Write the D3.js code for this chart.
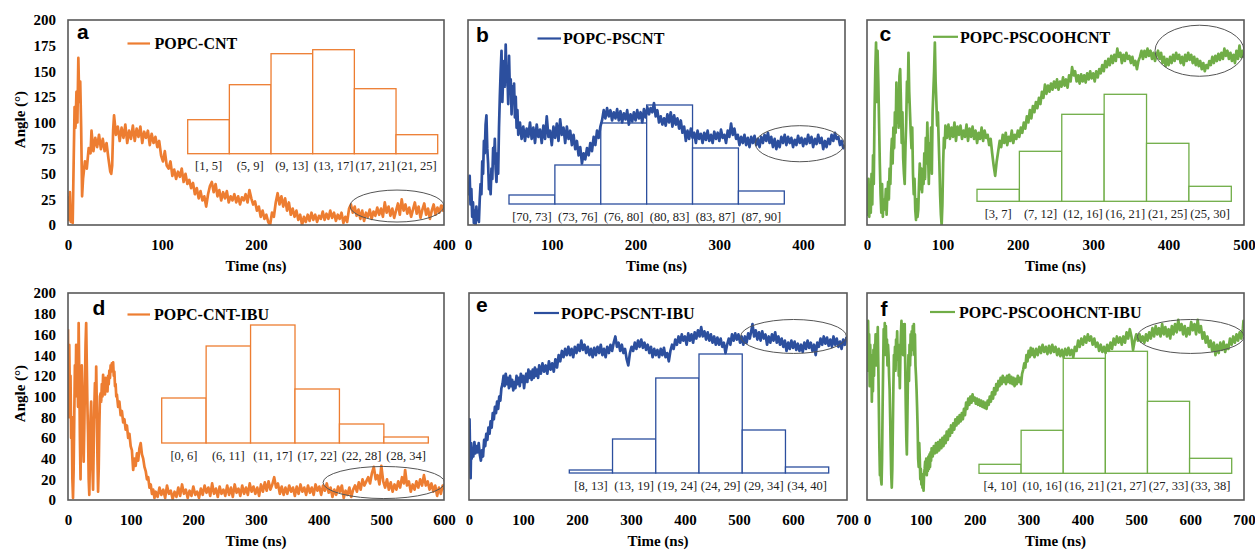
<!DOCTYPE html>
<html><head><meta charset="utf-8">
<script src="https://cdn.jsdelivr.net/npm/d3@7"></script>
<style>body{margin:0;background:#fff}svg{display:block}</style>
</head><body>
<svg id="chart" width="1255" height="550"></svg>
<script>
// ---------- DATA ----------
const seriesA = [[0,28],[1,5],[2,32],[3,3],[4,8],[5,2],[6,60],[7,115],[8,95],[9,130],[10,100],[11,163],[12,120],[13,140],[14,95],[15,28],[16,45],[18,62],[20,55],[22,75],[24,70],[25,92],[27,72],[29,85],[31,76],[33,88],[35,74],[37,84],[39,72],[41,80],[43,65],[45,52],[46,50],[47,58],[48,92],[49,107],[51,88],[53,96],[55,82],[57,95],[59,85],[61,98],[63,80],[65,92],[67,84],[69,97],[71,82],[73,94],[75,86],[77,96],[79,80],[81,91],[83,85],[85,92],[87,78],[89,89],[91,80],[93,86],[95,76],[97,82],[99,68],[101,62],[103,72],[105,58],[107,55],[109,62],[111,48],[113,54],[115,45],[117,52],[119,47],[121,55],[123,42],[125,50],[127,40],[129,44],[131,36],[133,41],[135,30],[137,36],[139,26],[141,33],[143,24],[145,28],[147,18],[149,30],[151,38],[153,42],[155,32],[157,40],[159,28],[161,34],[163,24],[165,32],[167,26],[169,33],[171,22],[173,28],[175,24],[177,30],[179,22],[181,28],[183,20],[185,27],[187,24],[189,30],[191,22],[193,34],[195,26],[197,20],[199,23],[201,14],[203,18],[205,8],[207,14],[209,6],[211,10],[213,3],[215,0],[217,12],[219,8],[221,22],[223,31],[225,20],[227,28],[229,18],[231,26],[233,14],[235,22],[237,10],[239,16],[241,8],[243,14],[245,5],[247,10],[249,0],[251,8],[253,3],[255,10],[257,4],[259,12],[261,5],[263,10],[265,3],[267,9],[269,6],[271,13],[273,5],[275,11],[277,6],[279,14],[281,7],[283,12],[285,4],[287,10],[289,6],[291,12],[293,2],[295,8],[297,3],[299,16],[301,20],[303,12],[305,18],[307,9],[309,15],[311,6],[313,14],[315,4],[317,12],[319,8],[321,15],[323,6],[325,13],[327,9],[329,17],[331,10],[333,16],[335,8],[337,22],[339,12],[341,18],[343,9],[345,16],[347,7],[349,14],[351,21],[353,10],[355,25],[357,14],[359,20],[361,11],[363,17],[365,8],[367,15],[369,22],[371,11],[373,18],[375,7],[377,15],[379,21],[381,10],[383,16],[385,6],[387,14],[389,20],[391,10],[393,17],[395,12],[397,19],[399,14],[400,20]];

const seriesB = [[0,42],[1,30],[2,48],[3,20],[4,35],[5,8],[6,22],[7,2],[8,14],[9,0],[10,18],[11,5],[12,12],[13,3],[14,25],[15,40],[16,30],[17,62],[18,50],[19,82],[20,70],[21,98],[22,107],[23,75],[24,60],[25,35],[26,48],[27,30],[28,55],[29,45],[30,75],[31,60],[32,84],[33,55],[34,42],[35,70],[36,50],[37,95],[38,125],[39,150],[40,170],[41,120],[42,145],[43,160],[44,135],[45,176],[46,140],[47,150],[48,118],[49,165],[50,130],[51,142],[52,108],[53,135],[54,120],[55,138],[56,105],[57,125],[58,95],[59,112],[60,88],[62,100],[64,84],[66,96],[68,82],[70,94],[72,86],[74,100],[76,84],[78,95],[80,80],[82,98],[84,86],[86,93],[88,80],[90,97],[92,84],[94,106],[96,86],[98,92],[100,78],[102,96],[104,85],[106,99],[108,82],[110,103],[112,88],[114,95],[116,80],[118,96],[120,84],[122,92],[124,78],[126,88],[128,74],[130,82],[132,68],[134,76],[136,60],[138,70],[140,64],[142,75],[144,68],[146,80],[148,72],[150,86],[152,78],[154,92],[156,85],[158,96],[160,102],[162,112],[164,104],[166,114],[168,106],[170,112],[172,102],[174,110],[176,104],[178,113],[180,102],[182,111],[184,100],[186,109],[188,103],[190,112],[192,98],[194,108],[196,101],[198,110],[200,102],[202,112],[204,104],[206,110],[208,100],[210,113],[212,105],[214,115],[216,108],[218,114],[220,110],[222,119],[224,106],[226,112],[228,100],[230,106],[232,98],[234,104],[236,97],[238,108],[240,100],[242,110],[244,96],[246,107],[248,98],[250,104],[252,94],[254,102],[256,90],[258,96],[260,82],[262,92],[264,84],[266,94],[268,85],[270,90],[272,80],[274,92],[276,84],[278,89],[280,80],[282,90],[284,83],[286,92],[288,82],[290,88],[292,80],[294,91],[296,84],[298,90],[300,82],[302,93],[304,85],[306,88],[308,80],[310,92],[312,86],[314,99],[316,88],[318,94],[320,84],[322,88],[324,78],[326,86],[328,80],[330,88],[332,78],[334,85],[336,76],[338,86],[340,80],[342,87],[344,78],[346,84],[348,76],[350,86],[352,80],[354,88],[356,82],[358,90],[360,80],[362,86],[364,76],[366,84],[368,74],[370,82],[372,76],[374,86],[376,80],[378,88],[380,78],[382,86],[384,80],[386,85],[388,76],[390,83],[392,78],[394,87],[396,80],[398,85],[400,77],[402,84],[404,79],[406,88],[408,80],[410,86],[412,76],[414,84],[416,79],[418,88],[420,80],[422,85],[424,74],[426,82],[428,76],[430,84],[432,79],[434,88],[436,82],[438,90],[440,84],[442,86],[444,78],[446,82],[448,75],[450,78]];

const seriesC = [[0,30],[1,10],[2,45],[3,8],[4,35],[5,12],[6,50],[7,20],[8,68],[9,40],[10,110],[11,150],[12,178],[13,120],[14,170],[15,140],[16,100],[17,60],[18,30],[19,12],[20,40],[21,8],[22,25],[23,15],[24,20],[25,35],[26,10],[27,30],[28,42],[29,25],[30,55],[31,40],[32,70],[33,84],[34,60],[35,95],[36,75],[37,110],[38,90],[39,139],[40,100],[41,130],[42,95],[43,145],[44,152],[45,120],[46,80],[47,110],[48,65],[49,50],[50,40],[51,75],[52,100],[53,140],[54,120],[55,168],[56,130],[57,110],[58,90],[59,75],[60,95],[61,50],[62,30],[63,45],[64,15],[65,5],[66,25],[67,8],[68,15],[69,40],[70,60],[71,35],[72,55],[73,32],[74,50],[75,40],[76,70],[77,45],[78,85],[79,60],[80,100],[81,70],[82,40],[83,80],[84,55],[85,95],[86,50],[87,110],[88,130],[89,150],[90,178],[91,140],[92,120],[93,97],[94,110],[95,84],[96,60],[97,29],[98,10],[99,0],[100,20],[101,60],[102,85],[103,75],[104,97],[106,85],[108,98],[110,84],[112,95],[114,86],[116,100],[118,82],[120,96],[122,88],[124,97],[126,84],[128,92],[130,86],[132,98],[134,82],[136,94],[138,86],[140,96],[142,84],[144,92],[146,80],[148,90],[150,84],[152,95],[154,82],[156,92],[158,85],[160,88],[162,78],[164,84],[166,70],[168,58],[170,48],[172,62],[174,72],[176,82],[178,76],[180,88],[182,80],[184,90],[186,78],[188,86],[190,82],[192,92],[194,80],[196,88],[198,84],[200,92],[202,86],[204,95],[206,90],[208,100],[210,94],[212,106],[214,100],[216,112],[218,104],[220,116],[222,110],[224,120],[226,114],[228,124],[230,118],[232,130],[234,124],[236,137],[238,128],[240,136],[242,130],[244,138],[246,132],[248,140],[250,134],[252,142],[254,132],[256,140],[258,135],[260,144],[262,136],[264,142],[266,134],[268,146],[270,140],[272,154],[274,146],[276,150],[278,140],[280,146],[282,138],[284,147],[286,140],[288,146],[290,139],[292,148],[294,142],[296,150],[298,143],[300,148],[302,140],[304,150],[306,144],[308,152],[310,148],[312,156],[314,150],[316,160],[318,154],[320,162],[322,156],[324,165],[326,158],[328,166],[330,160],[332,172],[334,164],[336,168],[338,158],[340,166],[342,160],[344,168],[346,162],[348,165],[350,158],[352,164],[354,156],[356,160],[358,152],[360,160],[362,164],[364,170],[366,162],[368,170],[370,164],[372,172],[374,165],[376,170],[378,162],[380,168],[382,160],[384,166],[386,170],[388,162],[390,168],[392,158],[394,164],[396,155],[398,162],[400,156],[402,164],[404,158],[406,166],[408,160],[410,168],[412,162],[414,166],[416,158],[418,164],[420,156],[422,166],[424,160],[426,168],[428,161],[430,166],[432,158],[434,164],[436,156],[438,162],[440,155],[442,160],[444,152],[446,158],[448,150],[450,156],[452,153],[454,160],[456,156],[458,164],[460,158],[462,165],[464,160],[466,167],[468,161],[470,168],[472,162],[474,172],[476,165],[478,170],[480,162],[482,168],[484,160],[486,166],[488,158],[490,170],[492,162],[494,175],[496,164],[498,170],[500,163]];

const seriesD = [[0,165],[1,80],[2,150],[3,100],[4,120],[5,60],[6,80],[7,20],[8,2],[9,30],[10,80],[11,130],[12,100],[13,150],[14,110],[15,140],[16,90],[17,171],[18,120],[19,60],[20,20],[21,90],[22,130],[23,100],[24,60],[25,37],[26,70],[27,110],[28,150],[29,171],[30,130],[31,90],[32,64],[33,20],[34,5],[35,40],[36,80],[37,95],[38,60],[39,30],[40,10],[41,50],[42,90],[43,113],[44,80],[45,129],[46,90],[47,40],[48,8],[49,30],[50,70],[51,100],[52,103],[53,95],[54,112],[55,100],[56,121],[57,108],[58,115],[59,102],[60,118],[61,110],[62,112],[63,105],[64,120],[65,112],[66,125],[67,118],[68,130],[69,124],[70,132],[71,126],[72,133],[73,120],[74,124],[75,110],[76,112],[77,100],[78,102],[80,90],[82,95],[84,82],[86,86],[88,75],[90,78],[92,68],[94,72],[96,60],[98,64],[100,52],[102,48],[104,29],[106,40],[108,33],[110,45],[112,38],[114,50],[116,55],[118,44],[120,40],[122,32],[124,28],[126,20],[128,22],[130,12],[132,15],[134,6],[136,10],[138,2],[140,8],[143,3],[146,12],[149,5],[152,10],[155,2],[158,14],[161,6],[164,9],[167,1],[170,8],[173,3],[176,12],[179,4],[182,15],[185,6],[188,10],[191,2],[194,9],[197,4],[200,13],[203,5],[206,8],[209,2],[212,11],[215,5],[218,14],[221,7],[224,12],[227,4],[230,16],[233,6],[236,11],[239,3],[242,13],[245,6],[248,10],[251,4],[254,14],[257,5],[260,12],[263,3],[266,15],[269,7],[272,11],[275,4],[278,14],[281,6],[284,12],[287,5],[290,16],[293,8],[296,13],[299,6],[302,12],[305,4],[308,15],[311,8],[314,17],[317,9],[320,18],[323,10],[326,15],[329,22],[332,12],[335,16],[338,6],[341,13],[344,5],[347,12],[350,6],[353,14],[356,8],[359,12],[362,4],[365,13],[368,6],[371,15],[374,8],[377,12],[380,5],[383,14],[386,7],[389,12],[392,5],[395,15],[398,9],[401,13],[404,5],[407,14],[410,9],[413,16],[416,7],[419,12],[422,3],[425,10],[428,5],[431,13],[434,8],[437,14],[440,2],[443,9],[446,5],[449,12],[452,3],[455,10],[458,14],[461,8],[464,17],[467,10],[470,20],[473,14],[476,18],[479,22],[482,16],[485,26],[488,32],[491,20],[494,24],[497,15],[500,33],[503,18],[506,12],[509,20],[512,10],[515,17],[518,8],[521,15],[524,10],[527,18],[530,12],[533,22],[536,16],[538,29],[541,14],[544,18],[547,8],[550,15],[553,10],[556,18],[559,12],[562,20],[565,14],[568,24],[571,14],[574,18],[577,10],[580,16],[583,8],[586,14],[589,4],[592,12],[595,6],[598,14],[600,10]];

const seriesE = [[0,60],[1,78],[2,45],[3,21],[4,55],[5,40],[6,50],[8,42],[10,56],[12,45],[14,52],[16,46],[18,55],[20,44],[22,38],[24,48],[26,42],[28,58],[30,52],[32,64],[34,58],[36,70],[38,64],[40,76],[42,70],[44,84],[46,78],[48,90],[50,84],[52,95],[54,88],[56,100],[58,96],[60,108],[62,112],[64,120],[66,110],[68,122],[70,112],[72,118],[74,108],[76,120],[78,110],[80,116],[82,106],[84,114],[86,108],[88,120],[90,112],[92,118],[94,110],[96,122],[98,114],[100,120],[102,108],[104,118],[106,122],[108,114],[110,126],[112,118],[114,124],[116,116],[118,126],[120,118],[122,128],[124,120],[126,126],[128,118],[130,130],[133,122],[136,132],[139,124],[142,130],[145,122],[148,134],[151,126],[154,132],[157,124],[160,136],[163,128],[166,140],[169,134],[172,144],[175,138],[178,146],[181,140],[184,148],[187,140],[190,146],[193,138],[196,148],[199,142],[202,150],[205,144],[208,154],[211,145],[214,150],[217,142],[220,148],[223,140],[226,146],[229,138],[232,147],[235,140],[238,148],[241,142],[244,150],[247,140],[250,146],[253,138],[256,148],[259,142],[262,150],[265,144],[268,152],[271,158],[274,148],[277,152],[280,144],[283,150],[286,142],[289,146],[292,136],[295,130],[298,142],[301,148],[304,144],[307,152],[310,146],[313,154],[316,148],[319,155],[322,147],[325,152],[328,145],[331,150],[334,142],[337,148],[340,138],[343,146],[346,140],[349,145],[352,138],[355,146],[358,140],[361,147],[364,138],[367,142],[370,134],[373,144],[376,150],[379,146],[382,155],[385,150],[388,158],[391,152],[394,160],[397,154],[400,158],[403,150],[406,161],[409,154],[412,160],[415,152],[418,162],[421,156],[424,164],[427,158],[430,167],[433,158],[436,163],[439,155],[442,162],[445,154],[448,160],[451,152],[454,158],[457,150],[460,157],[463,150],[466,156],[469,148],[472,152],[475,142],[478,150],[481,156],[484,150],[487,160],[490,154],[493,161],[496,155],[499,160],[502,152],[505,158],[508,150],[511,158],[514,152],[517,161],[520,156],[523,164],[525,170],[528,158],[531,164],[534,155],[537,162],[540,154],[543,163],[546,156],[549,160],[552,150],[555,158],[558,152],[561,160],[564,154],[567,162],[570,152],[573,158],[576,150],[579,156],[582,148],[585,154],[588,144],[591,152],[594,146],[597,154],[600,147],[603,153],[606,145],[609,151],[612,144],[615,150],[618,143],[621,152],[624,146],[627,154],[630,147],[633,152],[636,144],[639,150],[642,140],[645,152],[648,148],[651,156],[654,150],[657,158],[660,151],[663,157],[666,149],[669,155],[672,148],[675,158],[678,150],[681,156],[684,148],[687,153],[690,146],[693,155],[696,150],[699,157],[700,153]];

const seriesF = [[0,165],[1,125],[2,173],[3,140],[4,160],[5,110],[6,150],[7,120],[8,140],[9,95],[10,130],[11,105],[12,145],[13,120],[14,150],[15,140],[16,160],[17,130],[18,150],[19,143],[20,167],[21,130],[22,90],[23,50],[24,24],[25,40],[26,20],[27,15],[28,40],[29,90],[30,130],[31,165],[32,140],[33,171],[34,150],[35,168],[36,140],[37,155],[38,130],[39,150],[40,140],[41,120],[42,107],[43,80],[44,50],[45,25],[46,12],[47,30],[48,70],[49,110],[50,140],[51,130],[52,148],[53,125],[54,155],[55,140],[56,163],[57,135],[58,150],[59,120],[60,130],[61,108],[62,140],[63,160],[64,173],[65,150],[66,170],[67,140],[68,165],[69,145],[70,170],[71,130],[72,90],[73,60],[74,44],[75,80],[76,120],[77,140],[78,115],[79,150],[80,130],[81,160],[82,140],[83,163],[84,145],[85,168],[86,150],[87,170],[88,140],[89,160],[90,130],[91,120],[92,107],[93,90],[94,70],[95,40],[96,32],[97,55],[98,40],[99,20],[100,30],[101,15],[102,25],[103,12],[104,18],[105,9],[106,25],[107,30],[108,37],[109,28],[110,40],[111,24],[112,35],[113,28],[114,42],[115,30],[116,44],[117,32],[118,46],[119,38],[120,50],[122,42],[124,52],[126,45],[128,55],[130,46],[132,56],[134,48],[136,58],[138,50],[140,60],[142,52],[144,62],[146,55],[148,66],[150,58],[152,68],[154,62],[156,72],[158,65],[160,74],[162,68],[164,78],[166,72],[168,80],[170,74],[172,82],[174,76],[176,84],[178,78],[180,88],[182,82],[184,94],[186,88],[188,98],[190,92],[192,100],[194,94],[196,102],[198,96],[200,99],[202,93],[204,98],[206,92],[208,97],[210,91],[212,96],[214,90],[216,95],[218,89],[220,94],[222,88],[224,96],[226,92],[228,100],[230,95],[232,104],[234,98],[236,108],[238,102],[240,112],[242,106],[244,115],[246,110],[248,118],[250,112],[252,120],[254,114],[256,118],[258,112],[260,120],[262,114],[264,121],[266,113],[268,119],[270,112],[272,118],[274,110],[276,117],[278,112],[280,120],[282,114],[284,118],[286,112],[288,122],[290,126],[292,132],[294,128],[296,140],[298,134],[300,144],[302,138],[304,147],[306,140],[308,146],[311,138],[314,146],[317,140],[320,148],[323,142],[326,150],[329,143],[332,148],[335,141],[338,149],[341,142],[344,150],[347,143],[350,148],[353,140],[356,146],[359,139],[362,145],[365,138],[368,146],[371,140],[374,147],[377,140],[380,145],[383,138],[386,148],[389,144],[392,154],[395,148],[398,156],[401,150],[404,158],[407,152],[410,160],[413,154],[416,158],[419,150],[422,156],[425,148],[428,152],[431,144],[434,150],[437,143],[440,148],[443,142],[446,150],[449,144],[452,152],[455,146],[458,156],[461,150],[464,158],[467,152],[470,157],[473,150],[476,158],[479,152],[482,162],[485,156],[488,165],[491,158],[494,145],[497,154],[500,160],[503,154],[506,160],[509,153],[512,158],[515,152],[518,160],[521,154],[524,162],[527,156],[530,166],[533,158],[536,168],[539,160],[542,166],[545,158],[548,170],[551,160],[554,167],[557,158],[560,165],[563,156],[566,168],[569,160],[572,170],[575,162],[578,174],[581,164],[584,170],[587,160],[590,168],[593,158],[596,166],[599,160],[602,172],[605,164],[608,170],[611,160],[614,174],[617,162],[620,168],[623,156],[626,162],[629,152],[632,158],[635,148],[638,154],[641,144],[644,152],[647,140],[650,150],[653,142],[656,152],[659,145],[662,153],[665,143],[668,150],[671,146],[674,156],[677,150],[680,158],[683,152],[686,160],[689,154],[692,162],[695,156],[698,166],[699,173],[700,165]];

// histogram bins and relative frequencies
const histBinsA = ["[1, 5]","(5, 9]","(9, 13]","(13, 17]","(17, 21]","(21, 25]"];
const histFreqA = [34, 69, 100, 104, 65, 19];
const histBinsB = ["[70, 73]","(73, 76]","(76, 80]","(80, 83]","(83, 87]","(87, 90]"];
const histFreqB = [9, 39, 81, 99, 56, 13];
const histBinsC = ["[3, 7]","(7, 12]","(12, 16]","(16, 21]","(21, 25]","(25, 30]"];
const histFreqC = [12, 50, 87, 107, 58, 15];
const histBinsD = ["[0, 6]","(6, 11]","(11, 17]","(17, 22]","(22, 28]","(28, 34]"];
const histFreqD = [45, 97, 118, 54, 19, 6];
const histBinsE = ["[8, 13]","(13, 19]","(19, 24]","(24, 29]","(29, 34]","(34, 40]"];
const histFreqE = [3, 34, 95, 119, 43, 6];
const histBinsF = ["[4, 10]","(10, 16]","(16, 21]","(21, 27]","(27, 33]","(33, 38]"];
const histFreqF = [9, 43, 115, 122, 72, 15];

// tick labels
const yTicksTop = [0, 25, 50, 75, 100, 125, 150, 175, 200];
const yTicksBottom = [0, 20, 40, 60, 80, 100, 120, 140, 160, 180, 200];
const xTicksA = [0, 100, 200, 300, 400];
const xTicksB = [0, 100, 200, 300, 400];
const xTicksC = [0, 100, 200, 300, 400, 500];
const xTicksD = [0, 100, 200, 300, 400, 500, 600];
const xTicksE = [0, 100, 200, 300, 400, 500, 600, 700];
const xTicksF = [0, 100, 200, 300, 400, 500, 600, 700];

// circled (equilibrium) regions: [time centre, angle centre, time half-width, angle half-height]
const ellipseA = [350, 18.5, 50, 15.6];
const ellipseB = [396, 79.3, 53, 17.6];
const ellipseC = [441, 170, 59, 24.9];
const ellipseD = [504, 16.9, 97, 15.5];
const ellipseE = [601, 158, 98, 16.4];
const ellipseF = [601, 158, 99, 16.4];

const seriesNames = ["POPC-CNT","POPC-PSCNT","POPC-PSCOOHCNT","POPC-CNT-IBU","POPC-PSCNT-IBU","POPC-PSCOOHCNT-IBU"];
const panelLetters = ["a","b","c","d","e","f"];

// ---------- LAYOUT ----------
const ORANGE = "#ED7D31", BLUE = "#2C4F9E", GREEN = "#70AD47";
const SERIF = "'Liberation Serif','Times New Roman',serif";
const SANS = "'Liberation Sans',Arial,sans-serif";

const panels = [
  {series:seriesA, color:ORANGE, xMax:400, xTicks:xTicksA, x0:68, x1:444, top:20, bottom:225, yTicks:yTicksTop, showY:true,
   bins:histBinsA, freq:histFreqA, hx0:187.7, hx1:437.7, hbase:153.7, ell:ellipseA,
   letter:[77,38.5], leg:[127.5,150,43.5,154.5,49]},
  {series:seriesB, color:BLUE, xMax:450, xTicks:xTicksB, x0:468, x1:845, top:20, bottom:225, yTicks:yTicksTop, showY:false,
   bins:histBinsB, freq:histFreqB, hx0:509, hx1:784.3, hbase:204, ell:ellipseB,
   letter:[476,41.5], leg:[537.5,561,38.5,563,44]},
  {series:seriesC, color:GREEN, xMax:500, xTicks:xTicksC, x0:867, x1:1244, top:20, bottom:225, yTicks:yTicksTop, showY:false,
   bins:histBinsC, freq:histFreqC, hx0:977, hx1:1231.3, hbase:201.3, ell:ellipseC,
   letter:[879.5,41], leg:[933,958,36.8,960,42.5]},
  {series:seriesD, color:ORANGE, xMax:600, xTicks:xTicksD, x0:68, x1:444, top:293, bottom:500, yTicks:yTicksBottom, showY:true,
   bins:histBinsD, freq:histFreqD, hx0:161.7, hx1:428.3, hbase:443, ell:ellipseD,
   letter:[92.5,315], leg:[127.5,150,314.5,154,319.5]},
  {series:seriesE, color:BLUE, xMax:700, xTicks:xTicksE, x0:469, x1:847, top:293, bottom:500, yTicks:yTicksBottom, showY:false,
   bins:histBinsE, freq:histFreqE, hx0:569.3, hx1:828.7, hbase:473, ell:ellipseE,
   letter:[476,312], leg:[534,559,313,561,319]},
  {series:seriesF, color:GREEN, xMax:700, xTicks:xTicksF, x0:867, x1:1244, top:293, bottom:500, yTicks:yTicksBottom, showY:false,
   bins:histBinsF, freq:histFreqF, hx0:979, hx1:1231.7, hbase:473.3, ell:ellipseF,
   letter:[880.5,316], leg:[930,955,312,959,317.5]}
];

const svg = d3.select("#chart");
svg.append("rect").attr("width",1255).attr("height",550).attr("fill","#fff");

panels.forEach((p, i) => {
  const g = svg.append("g");
  const x = d3.scaleLinear().domain([0, p.xMax]).range([p.x0, p.x1]);
  const y = d3.scaleLinear().domain([0, 200]).range([p.bottom, p.top]);

  const clipId = "clip" + i;
  svg.append("clipPath").attr("id", clipId).append("rect")
    .attr("x", p.x0).attr("y", p.top).attr("width", p.x1 - p.x0).attr("height", p.bottom - p.top);

  // histogram inset
  const hx = d3.scaleBand().domain(p.bins).range([p.hx0, p.hx1]).paddingInner(0).paddingOuter(0);
  const hy = d3.scaleLinear().domain([0, 100]).range([p.hbase, p.hbase - 100]);
  g.append("g").selectAll("rect").data(p.bins).join("rect")
    .attr("x", d => hx(d)).attr("width", hx.bandwidth())
    .attr("y", (d, k) => hy(p.freq[k])).attr("height", (d, k) => p.hbase - hy(p.freq[k]))
    .attr("fill", "#fff").attr("stroke", p.color).attr("stroke-width", 1.3);
  g.append("g").selectAll("text").data(p.bins).join("text")
    .attr("x", d => hx(d) + hx.bandwidth() / 2).attr("y", p.hbase + 16.5)
    .attr("text-anchor", "middle").attr("font-family", SERIF).attr("font-size", 12.5)
    .attr("fill", "#222").text(d => d);

  // time series
  const line = d3.line().x(d => x(d[0])).y(d => y(d[1])).curve(d3.curveLinear);
  g.append("path").datum(p.series).attr("clip-path", `url(#${clipId})`)
    .attr("d", line).attr("fill", "none").attr("stroke", p.color)
    .attr("stroke-width", 2.7).attr("stroke-linejoin", "round");

  // ellipse annotation
  const e = p.ell;
  g.append("ellipse").attr("clip-path", `url(#${clipId})`)
    .attr("cx", x(e[0])).attr("cy", y(e[1]))
    .attr("rx", x(e[2]) - x(0)).attr("ry", y(0) - y(e[3]))
    .attr("fill", "none").attr("stroke", "#555").attr("stroke-width", 1);

  // frame
  g.append("rect").attr("x", p.x0).attr("y", p.top).attr("width", p.x1 - p.x0).attr("height", p.bottom - p.top)
    .attr("fill", "none").attr("stroke", "#595959").attr("stroke-width", 1.6);

  // x axis labels
  const xa = d3.axisBottom(x).tickValues(p.xTicks).tickSize(0).tickPadding(0).tickFormat(d3.format("d"));
  const xg = g.append("g").attr("transform", `translate(0,${p.bottom})`).call(xa);
  xg.select(".domain").remove();
  xg.selectAll("text").attr("y", 25).attr("dy", 0).attr("font-family", SERIF).attr("font-size", 15)
    .attr("font-weight", "bold").attr("fill", "#000");

  // y axis labels
  if (p.showY) {
    const ya = d3.axisLeft(y).tickValues(p.yTicks).tickSize(0).tickPadding(0).tickFormat(d3.format("d"));
    const yg = g.append("g").attr("transform", `translate(${p.x0 - 12},0)`).call(ya);
    yg.select(".domain").remove();
    yg.selectAll("text").attr("dy", "0.33em").attr("font-family", SERIF).attr("font-size", 15)
      .attr("font-weight", "bold").attr("fill", "#000");
    g.append("text").attr("transform", `translate(25,${(p.top + p.bottom) / 2 - 3}) rotate(-90)`)
      .attr("text-anchor", "middle").attr("font-family", SERIF).attr("font-size", 15)
      .attr("font-weight", "bold").text("Angle (°)");
  }

  // x title
  g.append("text").attr("x", (p.x0 + p.x1) / 2).attr("y", p.bottom + 46)
    .attr("text-anchor", "middle").attr("font-family", SERIF).attr("font-size", 15)
    .attr("font-weight", "bold").text("Time (ns)");

  // panel letter
  g.append("text").attr("x", p.letter[0]).attr("y", p.letter[1])
    .attr("font-family", SANS).attr("font-size", 21).attr("font-weight", "bold").text(panelLetters[i]);

  // legend
  g.append("line").attr("x1", p.leg[0]).attr("x2", p.leg[1]).attr("y1", p.leg[2]).attr("y2", p.leg[2])
    .attr("stroke", p.color).attr("stroke-width", 2.2);
  g.append("text").attr("x", p.leg[3]).attr("y", p.leg[4])
    .attr("font-family", SERIF).attr("font-size", 16).attr("font-weight", "bold").text(seriesNames[i]);
});
</script>
</body></html>
